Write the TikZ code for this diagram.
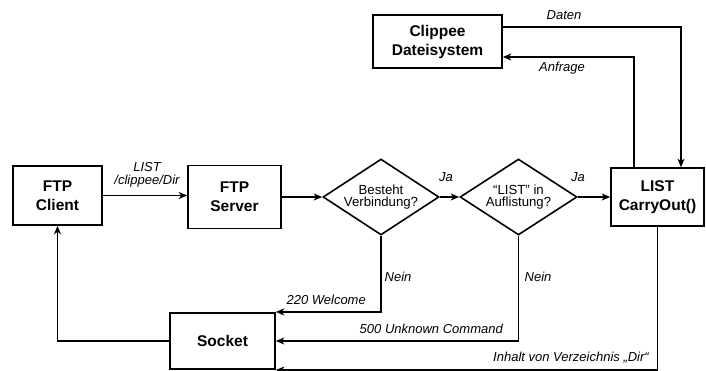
\documentclass[tikz,border=0pt]{standalone}
\usepackage{fontspec}
\setmainfont{Liberation Sans}
\usetikzlibrary{shapes.geometric,arrows.meta}

\tikzset{
  box/.style={draw, line width=1.6pt, rectangle, inner sep=0pt, align=center,
    font=\bfseries\fontsize{15.5}{19}\selectfont},
  decision/.style={draw, line width=1.6pt, diamond, inner sep=0pt},
  dtext/.style={align=center, inner sep=0pt, font=\fontsize{13.2}{12.5}\selectfont},
  lbl/.style={inner sep=0pt, align=center, font=\itshape\fontsize{13}{13}\selectfont},
  arr/.style={line width=1.6pt, -{Stealth[length=8.5pt,width=7pt,inset=2.5pt]}}
}

\begin{document}
\begin{tikzpicture}[x=1pt,y=-1pt]
\useasboundingbox (0,0) rectangle (706,371);

% boxes
\node[box, minimum width=89pt, minimum height=59pt] (client) at (57.5,195.5) {FTP\\Client};
\node[box, minimum width=93pt, minimum height=63pt] (server) at (234.5,197) {FTP\\Server};
\node[box, minimum width=93pt, minimum height=58pt] (carry) at (657.5,197) {LIST\\CarryOut()};
\node[box, minimum width=129pt, minimum height=53pt] (fs) at (437.5,41.5) {Clippee\\Dateisystem};
\node[box, minimum width=105pt, minimum height=56.5pt] (socket) at (222.5,341) {Socket};

% decisions
\node[decision, minimum width=116pt, minimum height=76pt] (d1) at (381,197) {};
\node[dtext] (t1) at (d1) {Besteht\\Verbindung?};
\node[decision, minimum width=117pt, minimum height=76pt] (d2) at (518.5,197) {};
\node[dtext] (t2) at (d2) {“LIST” in\\Auflistung?};

% main flow
\draw[arr] (client.east) -- (client.east -| server.west);
\draw[arr] (server.east) -- (d1.west);
\draw[arr] (d1.east) -- (d2.west);
\draw[arr] (d2.east) -- (carry.west);

% file system exchange
\draw[arr] ([xshift=-23.5pt]carry.north) |- ([yshift=-15.5pt]fs.east);
\draw[arr] ([yshift=14.5pt]fs.east) -| ([xshift=23.5pt]carry.north);

% replies to the socket
\draw[arr] (d1.south) |- (socket.north east);
\draw[arr] (d2.south) |- (socket.east);
\draw[arr] (carry.south) |- (socket.south east);
\draw[arr] (socket.west) -| (client.south);

% labels
\node[lbl] (lcmd) at (147,174.5) {LIST\\/clippee/Dir};
\node[lbl] (lja1) at (446,177) {Ja};
\node[lbl] (lja2) at (578,177) {Ja};
\node[lbl] (ln1) at (398,277) {Nein};
\node[lbl] (ln2) at (538,277) {Nein};
\node[lbl, anchor=east] (lwel) at (366,300) {220 Welcome};
\node[lbl, anchor=east] (lunk) at (503,329) {500 Unknown Command};
\node[lbl, anchor=east] (linh) at (649,358) {Inhalt von Verzeichnis „Dir“};
\node[lbl] (ldat) at (564,15) {Daten};
\node[lbl] (lanf) at (562,68) {Anfrage};
\end{tikzpicture}
\end{document}
